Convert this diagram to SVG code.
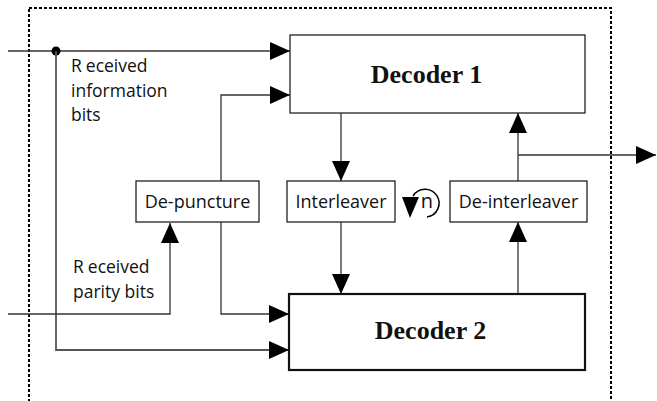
<svg xmlns="http://www.w3.org/2000/svg" width="657" height="401" viewBox="0 0 657 401">
<style>
.box{fill:#fff;stroke:#222;stroke-width:1.3}
.thick{fill:#fff;stroke:#111;stroke-width:2.2}
.ln{fill:none;stroke:#333;stroke-width:1.3}
.lbl{font-family:"Open Sans","Liberation Sans",sans-serif;font-size:18px;fill:#111}
.side{font-family:"Open Sans","Liberation Sans",sans-serif;font-size:17.5px;fill:#111}
.dec{font-family:"Liberation Serif",serif;font-size:26px;font-weight:bold;fill:#111}
</style>
<defs>
<marker id="ah" markerUnits="userSpaceOnUse" markerWidth="20" markerHeight="18" refX="20" refY="9" orient="auto">
<path d="M0,0 L20,9 L0,18 Z" fill="#000"/>
</marker>
</defs>
<rect x="29" y="8" width="582" height="420" fill="none" stroke="#000" stroke-width="2" stroke-dasharray="3,2"/>
<g id="connectors">
<line class="ln" x1="8" y1="51" x2="290" y2="51" marker-end="url(#ah)"/>
<circle cx="56" cy="51" r="4.5" fill="#000"/>
<polyline class="ln" points="56,51 56,350 289,350" style="stroke:#555;stroke-width:1.8" marker-end="url(#ah)"/>
<polyline class="ln" points="221,181 221,95 290,95" marker-end="url(#ah)"/>
<polyline class="ln" points="8,314 170,314 170,223" marker-end="url(#ah)"/>
<polyline class="ln" points="221,222 221,314 289,314" marker-end="url(#ah)"/>
<line class="ln" x1="341" y1="113" x2="341" y2="181" marker-end="url(#ah)"/>
<line class="ln" x1="341" y1="222" x2="341" y2="294" marker-end="url(#ah)"/>
<line class="ln" x1="518" y1="294" x2="518" y2="222" marker-end="url(#ah)"/>
<line class="ln" x1="518" y1="181" x2="518" y2="113" marker-end="url(#ah)"/>
<line class="ln" x1="518" y1="155" x2="656" y2="155" marker-end="url(#ah)"/>
</g>
<g id="decoder1">
<rect class="box" x="290" y="35" width="295" height="78"/>
<text class="dec" x="426.5" y="83" text-anchor="middle">Decoder 1</text>
</g>
<g id="decoder2">
<rect class="thick" x="289" y="294" width="296" height="76"/>
<text class="dec" x="430.5" y="339" text-anchor="middle">Decoder 2</text>
</g>
<g id="depuncture">
<rect class="box" x="136" y="181" width="123" height="41"/>
<text class="lbl" x="197.5" y="208" text-anchor="middle">De-puncture</text>
</g>
<g id="interleaver">
<rect class="box" x="287" y="181" width="108" height="41"/>
<text class="lbl" x="341" y="208" text-anchor="middle">Interleaver</text>
</g>
<g id="deinterleaver">
<rect class="box" x="450" y="181" width="137" height="41"/>
<text class="lbl" x="518.5" y="208" text-anchor="middle">De-interleaver</text>
</g>
<g id="iteration">
<path d="M427,217 A14,14 0 1 0 413,196" fill="none" stroke="#000" stroke-width="1.5"/>
<path d="M402,197 L419,197 L410,218 Z" fill="#000"/>
<text class="side" x="427" y="208" text-anchor="middle" style="font-size:20px">n</text>
</g>
<g id="labels">
<text class="side" x="71" y="72"><tspan>R</tspan><tspan dx="4">eceived</tspan></text>
<text class="side" x="71" y="97">information</text>
<text class="side" x="71" y="121">bits</text>
<text class="side" x="73" y="273"><tspan>R</tspan><tspan dx="4">eceived</tspan></text>
<text class="side" x="73" y="298">parity bits</text>
</g>
</svg>
